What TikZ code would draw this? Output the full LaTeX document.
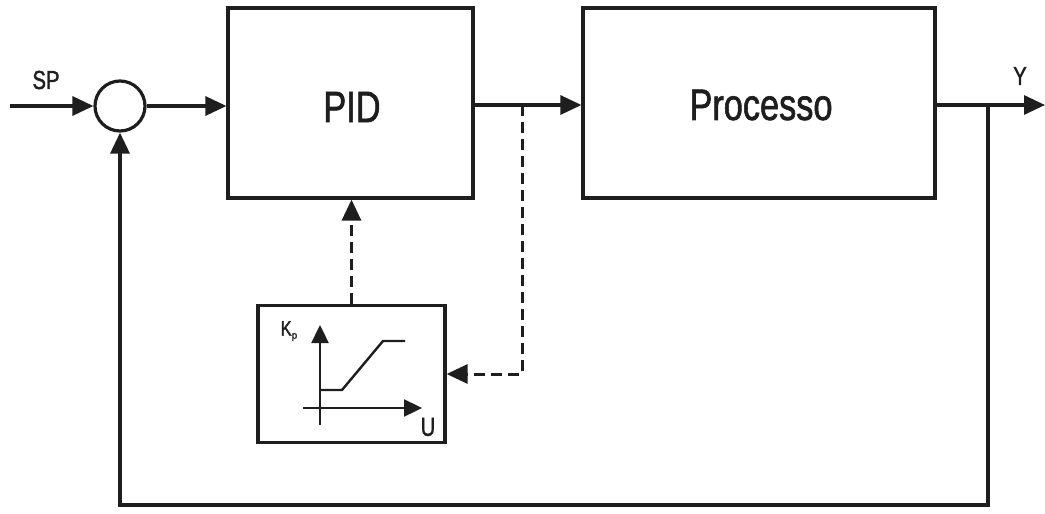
\documentclass[tikz,border=0pt]{standalone}
\usepackage{fontspec}
\setmainfont[FakeBold=1.6,AutoFakeBold=1.6]{Liberation Sans}
\usetikzlibrary{arrows.meta}
\definecolor{ink}{HTML}{1E1E1E}
\newcommand{\narrowtxt}[1]{\scalebox{0.78}[1]{#1}}
\tikzset{
  blockbox/.style={draw=ink, line width=3.2pt, rectangle, inner sep=0pt},
  sumnode/.style={draw=ink, line width=3.2pt, circle, minimum size=50pt, inner sep=0pt},
  sig/.style={draw=ink, line width=3.2pt, -{Triangle[length=21pt,width=19pt]}},
  dsig/.style={draw=ink, line width=3pt, dash pattern=on 11pt off 6pt, -{Triangle[length=21pt,width=19pt]}},
  axisline/.style={draw=ink, line width=2.4pt, -{Triangle[length=18pt,width=17pt]}},
  lbl/.style={inner sep=0pt, text=ink, font=\fontsize{26}{30}\selectfont\bfseries},
  bigtxt/.style={text=ink, font=\fontsize{44}{50}\selectfont\bfseries}
}
\begin{document}
\begin{tikzpicture}[x=1pt,y=-1pt]
\useasboundingbox (0,0) rectangle (1045,514);
\fill[white] (0,0) rectangle (1045,514);

\node[sumnode] (sum) at (120,106) {};
\node[blockbox, minimum width=245pt, minimum height=190pt] (pid) at (350.5,103) {};
\node[blockbox, minimum width=352pt, minimum height=190pt] (proc) at (759,103) {};
\node[blockbox, minimum width=187pt, minimum height=137pt] (kp) at (351.5,374) {};
\node[bigtxt, inner sep=0pt] (pidlbl) at (352,107) {\narrowtxt{PID}};
\node[bigtxt, inner sep=0pt] (proclbl) at (761,105) {\narrowtxt{Processo}};

\coordinate (sp) at (10,106);
\coordinate (j1) at (522,105);
\coordinate (j2) at (988,105);
\coordinate (yout) at (1045,105);
\coordinate (fb) at (988,505);

\node[lbl] (splbl) at (46,80) {\narrowtxt{SP}};
\node[lbl] (ylbl) at (1020,76) {\narrowtxt{Y}};

\draw[sig] (sp) -- (sum.west);
\draw[sig] (sum.east) -- (pid.west |- sum.east);
\draw[sig] (pid.east |- j1) -- (proc.west |- j1);
\draw[sig] (proc.east |- j2) -- (yout);
\draw[sig] (j2) -- (fb) -| (sum.south);
\draw[dsig] (j1) |- (kp.east);
\draw[dsig] (kp.north) -- (pid.south -| kp.north);

% characteristic inside the Kp box
\draw[axisline] (320,425) -- (320,325);
\draw[axisline] (303,408) -- (422,408);
\draw[draw=ink, line width=2.4pt] (320,390) -- (342,390) -- (383,341) -- (405,341);
\node[inner sep=0pt, text=ink, font=\fontsize{21}{24}\selectfont\bfseries] (kplbl) at (289,331) {\narrowtxt{K}\raisebox{-3pt}{\fontsize{10}{12}\selectfont p}};
\node[lbl] (ulbl) at (428,427) {\narrowtxt{U}};
\end{tikzpicture}
\end{document}
